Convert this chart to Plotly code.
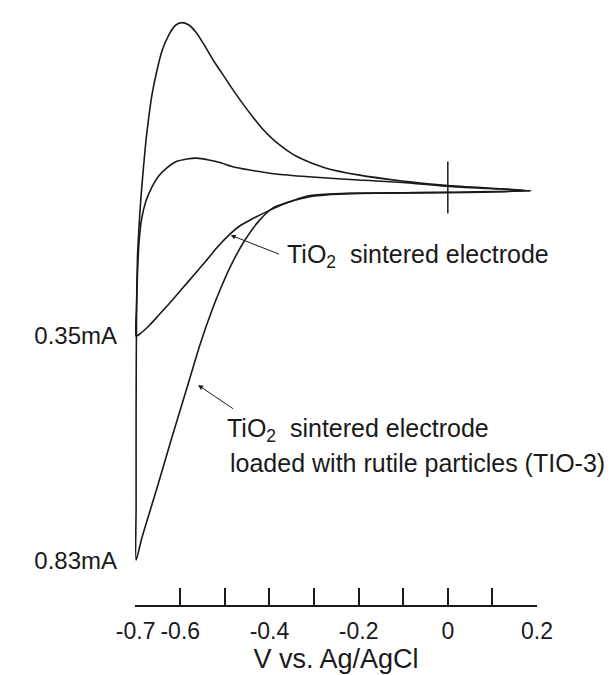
import plotly.graph_objects as go

# ---- data (potential V vs Ag/AgCl, current mA; cathodic negative) ----
tio3_v = [0.186, 0.000, -0.134, -0.223, -0.261, -0.312, -0.350, -0.393, -0.424, -0.456, -0.489,
          -0.512, -0.527, -0.556, -0.585, -0.619, -0.652, -0.686, -0.699,
          -0.699, -0.699, -0.698, -0.696, -0.692, -0.6882, -0.6826, -0.677, -0.6703, -0.6636,
          -0.6524, -0.6412, -0.6256, -0.6099, -0.5965, -0.5808, -0.5652, -0.5473, -0.5249,
          -0.5026, -0.4802, -0.4579, -0.4355, -0.4132, -0.3908, -0.3684, -0.3416, -0.3125,
          -0.2745, -0.2008, -0.1024, -0.006, 0.090, 0.186]
tio3_i = [-0.039, -0.042, -0.044, -0.045, -0.047, -0.052, -0.061, -0.076, -0.104, -0.146, -0.204,
          -0.254, -0.290, -0.369, -0.461, -0.568, -0.675, -0.782, -0.830,
          -0.718, -0.504, -0.290, -0.183, -0.108, -0.054, 0.010, 0.068, 0.121, 0.166,
          0.218, 0.260, 0.295, 0.316, 0.321, 0.316, 0.301, 0.275, 0.239,
          0.207, 0.175, 0.145, 0.117, 0.091, 0.070, 0.053, 0.036, 0.023,
          0.010, -0.005, -0.018, -0.027, -0.033, -0.039]

tio2_v = [0.186, 0.001, -0.200, -0.268, -0.315, -0.366, -0.402, -0.438, -0.469, -0.491, -0.518,
          -0.542, -0.569, -0.596, -0.625, -0.648, -0.670, -0.690, -0.699,
          -0.698, -0.696, -0.6926, -0.687, -0.677, -0.6636, -0.648, -0.630, -0.610,
          -0.585, -0.563, -0.536, -0.509, -0.480, -0.447, -0.386, -0.312, -0.200,
          -0.102, -0.006, 0.090, 0.186]
tio2_i = [-0.039, -0.043, -0.044, -0.046, -0.050, -0.067, -0.082, -0.099, -0.116, -0.134, -0.161,
          -0.189, -0.219, -0.249, -0.281, -0.305, -0.328, -0.345, -0.350,
          -0.290, -0.219, -0.151, -0.101, -0.061, -0.031, -0.007, 0.010, 0.023,
          0.029, 0.031, 0.027, 0.021, 0.012, 0.006, -0.003, -0.009, -0.016,
          -0.021, -0.029, -0.034, -0.039]

x_tick_vals = [-0.7, -0.6, -0.4, -0.2, 0.0, 0.2]
x_tick_text = ["-0.7", "-0.6", "-0.4", "-0.2", "0", "0.2"]
x_minor_vals = [-0.5, -0.3, -0.1, 0.1]
y_tick_vals = [-0.35, -0.83]
y_tick_text = ["0.35mA", "0.83mA"]

mark_v = [0.0]
mark_i = [-0.032]

FONT = "Liberation Sans, Arial, Helvetica, sans-serif"
INK = "#1a1a1a"

fig = go.Figure()
for xs, ys in ((tio3_v, tio3_i), (tio2_v, tio2_i)):
    fig.add_trace(go.Scatter(x=xs, y=ys, mode="lines",
                             line=dict(color=INK, width=1.6, shape="spline", smoothing=0.6),
                             showlegend=False, hoverinfo="skip"))
fig.add_trace(go.Scatter(x=mark_v, y=mark_i, mode="markers",
                         marker=dict(symbol="line-ns", size=37, line=dict(color=INK, width=1.5)),
                         cliponaxis=False, showlegend=False))

afont = dict(size=25, color=INK, family=FONT)
# arrows + labels
fig.add_annotation(x=-0.487, y=-0.134, ax=-0.375, ay=-0.176, axref="x", ayref="y",
                   text="", showarrow=True, arrowhead=2, arrowsize=1, arrowwidth=1, arrowcolor=INK)
fig.add_annotation(x=-0.366, y=-0.179, text="TiO<sub>2</sub>  sintered electrode", showarrow=False,
                   xanchor="left", yanchor="middle", font=afont)
fig.add_annotation(x=-0.560, y=-0.455, ax=-0.478, ay=-0.508, axref="x", ayref="y",
                   text="", showarrow=True, arrowhead=2, arrowsize=1, arrowwidth=1, arrowcolor=INK)
fig.add_annotation(x=-0.500, y=-0.551, text="TiO<sub>2</sub>  sintered electrode", showarrow=False,
                   xanchor="left", yanchor="middle", font=afont)
fig.add_annotation(x=-0.493, y=-0.622, text="loaded with rutile particles (TIO-3)", showarrow=False,
                   xanchor="left", yanchor="middle", font=afont)

fig.update_layout(
    width=616, height=675,
    margin=dict(l=127, r=87, t=10, b=78),
    paper_bgcolor="white", plot_bgcolor="white",
    font=dict(family=FONT, size=23, color=INK),
    xaxis=dict(range=[-0.7015, 0.2], showgrid=False, zeroline=False,
               showline=True, linecolor=INK, linewidth=1.5,
               ticks="inside", ticklen=17, tickwidth=1.5, tickcolor=INK,
               tickvals=x_tick_vals, ticktext=x_tick_text, ticklabelstandoff=5,
               tickfont=dict(size=23),
               minor=dict(tickvals=x_minor_vals, ticks="inside", ticklen=17,
                          tickwidth=1.5, tickcolor=INK, showgrid=False),
               title=dict(text="V vs. Ag/AgCl", standoff=5, font=dict(size=27))),
    yaxis=dict(range=[-0.926, 0.331], showgrid=False, zeroline=False, showline=False,
               ticks="", tickvals=y_tick_vals, ticktext=y_tick_text, ticklabelstandoff=17,
               tickfont=dict(size=24)),
)

fig.write_html("out.html")
